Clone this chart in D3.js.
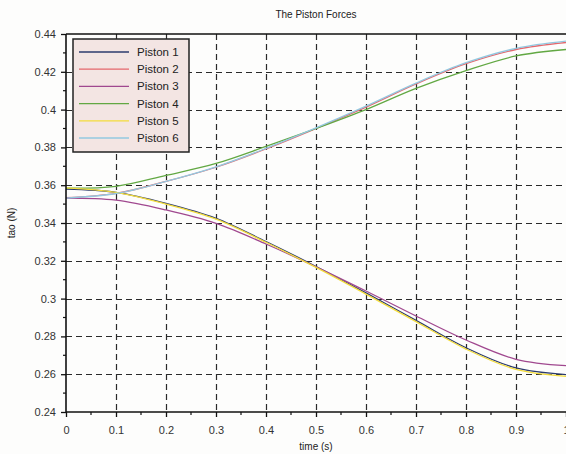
<!DOCTYPE html>
<html>
<head>
<meta charset="utf-8">
<script src="https://cdn.jsdelivr.net/npm/d3@7"></script>
<style>
  body { margin: 0; background: #fdfdfc; }
  svg { display: block; font-family: "Liberation Sans", Arial, sans-serif; }
</style>
</head>
<body>
<svg id="chart" width="566" height="454"></svg>
<script>
// time samples (s)
const times = [0, 0.1, 0.2, 0.3, 0.4, 0.5, 0.6, 0.7, 0.8, 0.9, 1.0];

// tao (N) for each piston
const piston1 = [0.3580, 0.3562, 0.3504, 0.3425, 0.3302, 0.3170, 0.3030, 0.2885, 0.2740, 0.2633, 0.2598];
const piston2 = [0.3534, 0.3557, 0.3620, 0.3695, 0.3792, 0.3900, 0.4013, 0.4136, 0.4243, 0.4318, 0.4355];
const piston3 = [0.3532, 0.3521, 0.3469, 0.3398, 0.3289, 0.3168, 0.3040, 0.2908, 0.2781, 0.2679, 0.2645];
const piston4 = [0.3584, 0.3594, 0.3652, 0.3715, 0.3805, 0.3900, 0.4000, 0.4112, 0.4206, 0.4284, 0.4318];
const piston5 = [0.3586, 0.3562, 0.3500, 0.3420, 0.3298, 0.3165, 0.3024, 0.2878, 0.2733, 0.2625, 0.2588];
const piston6 = [0.3532, 0.3556, 0.3620, 0.3697, 0.3795, 0.3903, 0.4018, 0.4140, 0.4248, 0.4324, 0.4362];

const names = ['Piston 1', 'Piston 2', 'Piston 3', 'Piston 4', 'Piston 5', 'Piston 6'];
const colors = ['#2c3b6e', '#e5676c', '#a0488f', '#62a843', '#f3dc3c', '#93c8e0'];
const xTicks = [0, 0.1, 0.2, 0.3, 0.4, 0.5, 0.6, 0.7, 0.8, 0.9, 1];
const yTicks = [0.24, 0.26, 0.28, 0.3, 0.32, 0.34, 0.36, 0.38, 0.4, 0.42, 0.44];

const series = [piston1, piston2, piston3, piston4, piston5, piston6]
  .map((vals, i) => ({ name: names[i], color: colors[i], values: vals.map((v, k) => [times[k], v]) }));

const margin = { left: 66, top: 34, right: 0, bottom: 42 };
const width = 566, height = 454;

const svg = d3.select('#chart');

const x = d3.scaleLinear().domain([0, 1]).range([margin.left, width - margin.right]);
const y = d3.scaleLinear().domain([0.24, 0.44]).range([height - margin.bottom, margin.top]);

// grid
const grid = svg.append('g').attr('class', 'grid')
  .attr('stroke', '#2a2a2a')
  .attr('stroke-width', 1.2)
  .attr('stroke-dasharray', '6,4');

grid.selectAll('line.v')
  .data(xTicks.filter(t => t > 0 && t < 1))
  .enter()
  .append('line')
  .attr('class', 'v')
  .attr('x1', d => Math.round(x(d)) + 0.5)
  .attr('x2', d => Math.round(x(d)) + 0.5)
  .attr('y1', y(0.44))
  .attr('y2', y(0.24));

grid.selectAll('line.h')
  .data(yTicks.filter(t => t > 0.245 && t < 0.435))
  .enter()
  .append('line')
  .attr('class', 'h')
  .attr('x1', x(0))
  .attr('x2', x(1))
  .attr('y1', d => Math.round(y(d)) + 0.5)
  .attr('y2', d => Math.round(y(d)) + 0.5);

// curves
const line = d3.line()
  .x(d => x(d[0]))
  .y(d => y(d[1]))
  .curve(d3.curveCatmullRom.alpha(0.5));

svg.append('g')
  .attr('class', 'lines')
  .selectAll('path')
  .data(series)
  .enter()
  .append('path')
  .attr('d', d => line(d.values))
  .attr('fill', 'none')
  .attr('stroke', d => d.color)
  .attr('stroke-width', 1.3);

// axes
const xAxis = d3.axisBottom(x)
  .tickValues(xTicks)
  .tickFormat(d => d3.format('')(+d.toFixed(1)))
  .tickSize(5)
  .tickPadding(9);

const yAxis = d3.axisLeft(y)
  .tickValues(yTicks)
  .tickFormat(d => d3.format('')(+d.toFixed(2)))
  .tickSize(5)
  .tickPadding(5);

const gx = svg.append('g')
  .attr('transform', `translate(0, ${y(0.24)})`)
  .call(xAxis);

const gy = svg.append('g')
  .attr('transform', `translate(${x(0)}, 0)`)
  .call(yAxis);

[gx, gy].forEach(g => {
  g.select('.domain').remove();
  g.selectAll('.tick line').attr('stroke', '#111').attr('stroke-width', 1.3);
  g.selectAll('.tick text')
    .attr('fill', '#333')
    .style('font-size', '11px')
    .style('font-family', '"Liberation Sans", Arial, sans-serif');
});

// minor ticks
svg.append('g')
  .selectAll('line')
  .data(d3.range(0.05, 1, 0.1))
  .enter()
  .append('line')
  .attr('x1', d => x(d))
  .attr('x2', d => x(d))
  .attr('y1', y(0.24))
  .attr('y2', y(0.24) + 3)
  .attr('stroke', '#111')
  .attr('stroke-width', 1.2);

svg.append('g')
  .selectAll('line')
  .data(d3.range(0.25, 0.44, 0.02))
  .enter()
  .append('line')
  .attr('x1', x(0) - 3)
  .attr('x2', x(0))
  .attr('y1', d => y(d))
  .attr('y2', d => y(d))
  .attr('stroke', '#111')
  .attr('stroke-width', 1.2);

// frame
svg.append('line')
  .attr('x1', x(0)).attr('x2', x(1))
  .attr('y1', y(0.24)).attr('y2', y(0.24))
  .attr('stroke', '#111').attr('stroke-width', 1.6);
svg.append('line')
  .attr('x1', x(0)).attr('x2', x(0))
  .attr('y1', y(0.44)).attr('y2', y(0.24))
  .attr('stroke', '#111').attr('stroke-width', 1.6);
svg.append('line')
  .attr('x1', x(0)).attr('x2', x(1))
  .attr('y1', y(0.44)).attr('y2', y(0.44))
  .attr('stroke', '#111').attr('stroke-width', 1.6);

// titles
svg.append('text')
  .attr('x', 316)
  .attr('y', 18)
  .attr('text-anchor', 'middle')
  .attr('fill', '#222')
  .style('font-size', '10px')
  .text('The Piston Forces');

svg.append('text')
  .attr('x', 316)
  .attr('y', 450)
  .attr('text-anchor', 'middle')
  .attr('fill', '#222')
  .style('font-size', '10px')
  .text('time (s)');

svg.append('text')
  .attr('transform', 'translate(15, 223) rotate(-90)')
  .attr('text-anchor', 'middle')
  .attr('fill', '#222')
  .style('font-size', '10px')
  .text('tao (N)');

// legend
const legend = svg.append('g').attr('transform', 'translate(73, 39)');

legend.append('rect')
  .attr('width', 116)
  .attr('height', 113)
  .attr('fill', '#f3e5e3')
  .attr('stroke', '#222')
  .attr('stroke-width', 1.5);

const items = legend.selectAll('g.item')
  .data(series)
  .enter()
  .append('g')
  .attr('class', 'item')
  .attr('transform', (d, i) => `translate(0, ${13 + i * 17.2})`);

items.append('line')
  .attr('x1', 6)
  .attr('x2', 56)
  .attr('stroke', d => d.color)
  .attr('stroke-width', 1.3);

items.append('text')
  .attr('x', 64)
  .attr('dy', '0.35em')
  .attr('fill', '#222')
  .style('font-size', '11.5px')
  .text(d => d.name);
</script>
</body>
</html>
